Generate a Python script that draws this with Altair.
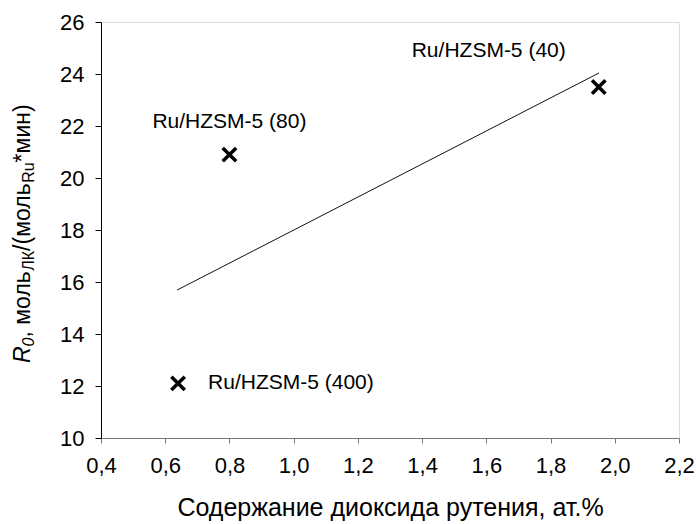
import altair as alt
import pandas as pd

# ---- data ----
pt_x = [0.80, 1.95, 0.64]
pt_y = [20.9, 23.5, 12.1]
pt_label = ["Ru/HZSM-5 (80)", "Ru/HZSM-5 (40)", "Ru/HZSM-5 (400)"]
line_x = [0.637, 1.951]
line_y = [15.69, 24.04]
x_ticks = [0.4, 0.6, 0.8, 1.0, 1.2, 1.4, 1.6, 1.8, 2.0, 2.2]
y_ticks = [10, 12, 14, 16, 18, 20, 22, 24, 26]
x_title = "Содержание диоксида рутения, ат.%"
# y title pieces: (text, is_subscript, italic)
y_title_parts = [("R", False, True), ("0", True, True), (", моль", False, False),
                 ("ЛК", True, False), ("/(моль", False, False), ("Ru", True, False),
                 ("*мин)", False, False)]

FONT = "Liberation Sans"
W, H = 578, 416

pts = pd.DataFrame({"x": pt_x, "y": pt_y, "label": pt_label})
line_df = pd.DataFrame({"x": line_x, "y": line_y})

xs = alt.Scale(domain=[x_ticks[0], x_ticks[-1]], nice=False, zero=False)
ys = alt.Scale(domain=[y_ticks[0], y_ticks[-1]], nice=False, zero=False)

x_enc = alt.X("x:Q", scale=xs, title=x_title,
              axis=alt.Axis(values=x_ticks, grid=False, labelFlush=False,
                            labelExpr="replace(format(datum.value, '.1f'), '.', ',')",
                            domainColor="#777777", tickColor="#777777", tickSize=5,
                            labelPadding=12, labelFontSize=22, labelColor="black",
                            labelFont=FONT, titleFont=FONT, titleFontSize=25,
                            titleFontWeight="normal", titleColor="black", titlePadding=19))
y_enc = alt.Y("y:Q", scale=ys, title="",
              axis=alt.Axis(values=y_ticks, grid=False, labelFlush=False,
                            domainColor="black",
                            tickColor="black", tickSize=6, labelPadding=11,
                            labelFontSize=22, labelColor="black", labelFont=FONT))

points = alt.Chart(pts).mark_point(
    shape="M-1,-1L1,1M-1,1L1,-1", filled=False, stroke="black",
    strokeWidth=3.5, size=180, opacity=1
).encode(x=x_enc, y=y_enc)

line = alt.Chart(line_df).mark_line(color="#111111", strokeWidth=1).encode(
    x=x_enc, y=y_enc)

label_style = [(0, "center", 0, -33), (1, "center", -110, -36), (2, "left", 30, 0)]
label_layers = []
for i, al, dx, dy in label_style:
    label_layers.append(
        alt.Chart(pts.iloc[[i]]).mark_text(
            align=al, baseline="middle", dx=dx, dy=dy, font=FONT, fontSize=21,
            color="black"
        ).encode(x=x_enc, y=y_enc, text="label:N"))

# rotated y title built from pieces (approximate Arial advance widths)
WID = {"R": .722, "0": .556, ",": .278, " ": .278, "м": .688, "о": .556, "л": .583,
       "ь": .521, "Л": .656, "К": .583, "/": .278, "(": .333, ")": .333, "u": .556,
       "*": .389, "и": .559, "н": .552}
F_MAIN, F_SUB = 23, 16
title_layers = []
pos = 363 - 22  # bottom start in plot coordinates
for txt, sub, ital in y_title_parts:
    fs = F_SUB if sub else F_MAIN
    w = sum(WID.get(c, .556) for c in txt) * fs
    props = dict(align="left", baseline="middle", angle=270, font=FONT,
                 fontSize=fs, color="black")
    if ital:
        props["fontStyle"] = "italic"
    xpos = -78 + (6 if sub else 0)
    title_layers.append(
        alt.Chart(pd.DataFrame({"t": [txt]})).mark_text(**props).encode(
            x=alt.value(xpos), y=alt.value(pos), text="t:N"))
    pos -= w

chart = alt.layer(points, line, *label_layers, *title_layers).properties(
    width=W, height=H, autosize="none",
    padding={"left": 101, "top": 22, "right": 17, "bottom": 86}
).configure_view(stroke="#888888", strokeWidth=1).configure(background="white")

chart.save("out.html", embed_options={"renderer": "svg", "actions": False})
